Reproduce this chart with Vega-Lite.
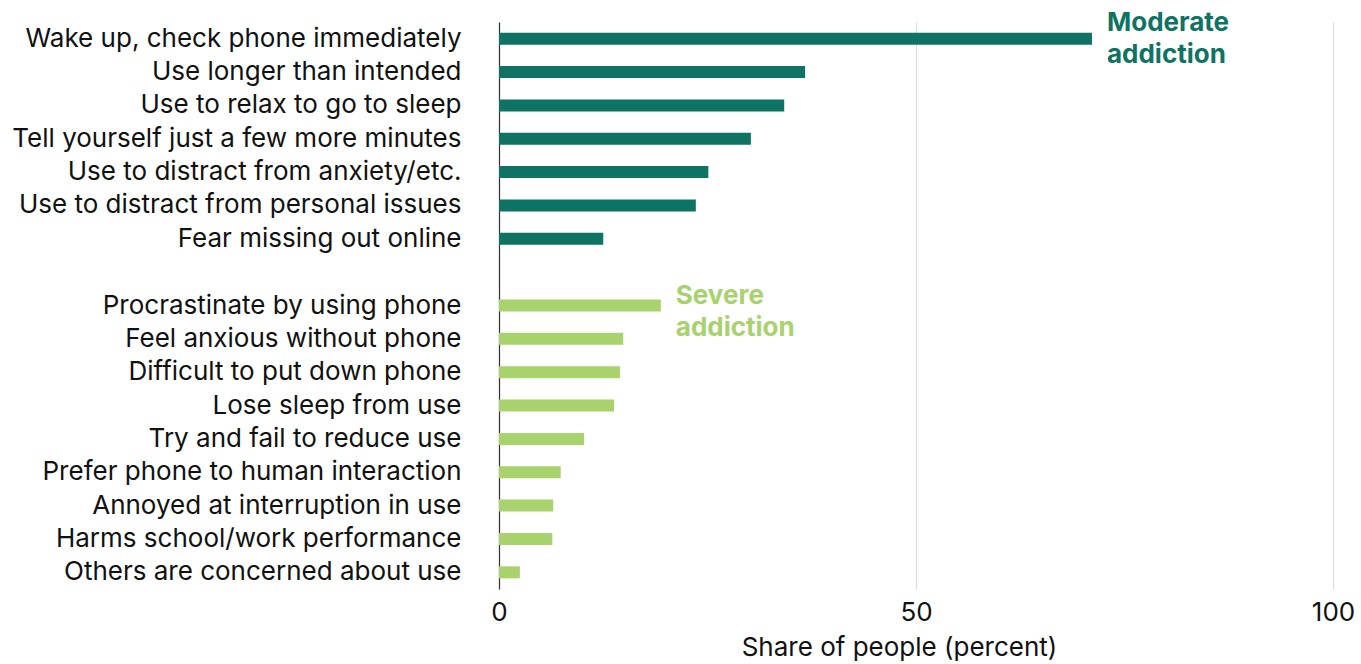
{
  "$schema": "https://vega.github.io/schema/vega-lite/v6.json",
  "width": 834,
  "height": 567,
  "autosize": {"type": "none"},
  "padding": {"left": 499, "top": 22, "right": 28, "bottom": 75},
  "background": "white",
  "config": {
    "view": {"stroke": null},
    "font": "Inter",
    "axis": {"labelFont": "Inter", "titleFont": "Inter"}
  },
  "datasets": {
    "bars": [
      {"item": "Wake up, check phone immediately", "value": 71.1, "group": "Moderate"},
      {"item": "Use longer than intended", "value": 36.7, "group": "Moderate"},
      {"item": "Use to relax to go to sleep", "value": 34.2, "group": "Moderate"},
      {"item": "Tell yourself just a few more minutes", "value": 30.2, "group": "Moderate"},
      {"item": "Use to distract from anxiety/etc.", "value": 25.1, "group": "Moderate"},
      {"item": "Use to distract from personal issues", "value": 23.6, "group": "Moderate"},
      {"item": "Fear missing out online", "value": 12.5, "group": "Moderate"},
      {"item": "Procrastinate by using phone", "value": 19.4, "group": "Severe"},
      {"item": "Feel anxious without phone", "value": 14.9, "group": "Severe"},
      {"item": "Difficult to put down phone", "value": 14.5, "group": "Severe"},
      {"item": "Lose sleep from use", "value": 13.8, "group": "Severe"},
      {"item": "Try and fail to reduce use", "value": 10.2, "group": "Severe"},
      {"item": "Prefer phone to human interaction", "value": 7.4, "group": "Severe"},
      {"item": "Annoyed at interruption in use", "value": 6.5, "group": "Severe"},
      {"item": "Harms school/work performance", "value": 6.4, "group": "Severe"},
      {"item": "Others are concerned about use", "value": 2.5, "group": "Severe"}
    ],
    "notes": [
      {"item": "Wake up, check phone immediately", "value": 71.1, "group": "Moderate", "label": ["Moderate", "addiction"]},
      {"item": "Procrastinate by using phone", "value": 19.4, "group": "Severe", "label": ["Severe", "addiction"]}
    ]
  },
  "encoding": {
    "y": {
      "field": "item",
      "type": "nominal",
      "scale": {
        "domain": [
          "Wake up, check phone immediately",
          "Use longer than intended",
          "Use to relax to go to sleep",
          "Tell yourself just a few more minutes",
          "Use to distract from anxiety/etc.",
          "Use to distract from personal issues",
          "Fear missing out online",
          "gap",
          "Procrastinate by using phone",
          "Feel anxious without phone",
          "Difficult to put down phone",
          "Lose sleep from use",
          "Try and fail to reduce use",
          "Prefer phone to human interaction",
          "Annoyed at interruption in use",
          "Harms school/work performance",
          "Others are concerned about use"
        ],
        "paddingInner": 0.64,
        "paddingOuter": 0.32
      },
      "axis": {
        "title": null,
        "ticks": false,
        "labelExpr": "datum.value == 'gap' ? '' : datum.value",
        "labelFontSize": 26,
        "labelColor": "#111111",
        "labelPadding": 38,
        "labelLimit": 600,
        "domainColor": "#333333",
        "domainWidth": 1.2
      }
    },
    "color": {
      "field": "group",
      "type": "nominal",
      "scale": {"domain": ["Moderate", "Severe"], "range": ["#0E7362", "#A8D26B"]},
      "legend": null
    }
  },
  "layer": [
    {
      "data": {"name": "bars"},
      "mark": {"type": "bar"},
      "encoding": {
        "x": {
          "field": "value",
          "type": "quantitative",
          "scale": {"domain": [0, 100], "nice": false},
          "axis": {
            "values": [0, 50, 100],
            "title": "Share of people (percent)",
            "titleFontSize": 26,
            "titleFontWeight": "normal",
            "titleColor": "#111111",
            "titlePadding": 9,
            "titleX": 400,
            "labelFontSize": 26,
            "labelColor": "#111111",
            "labelPadding": 10,
            "labelFlush": false,
            "ticks": false,
            "domain": false,
            "grid": true,
            "gridColor": "#dddddd",
            "gridWidth": 1.2
          }
        }
      }
    },
    {
      "data": {"name": "notes"},
      "transform": [{"filter": "datum.group == 'Moderate'"}],
      "mark": {"type": "text", "align": "left", "baseline": "middle", "dx": 15, "dy": -16, "fontSize": 26, "fontWeight": "bold", "lineHeight": 32},
      "encoding": {
        "x": {"field": "value", "type": "quantitative"},
        "text": {"field": "label"}
      }
    },
    {
      "data": {"name": "notes"},
      "transform": [{"filter": "datum.group == 'Severe'"}],
      "mark": {"type": "text", "align": "left", "baseline": "middle", "dx": 15, "dy": -10, "fontSize": 26, "fontWeight": "bold", "lineHeight": 32},
      "encoding": {
        "x": {"field": "value", "type": "quantitative"},
        "text": {"field": "label"}
      }
    }
  ]
}
